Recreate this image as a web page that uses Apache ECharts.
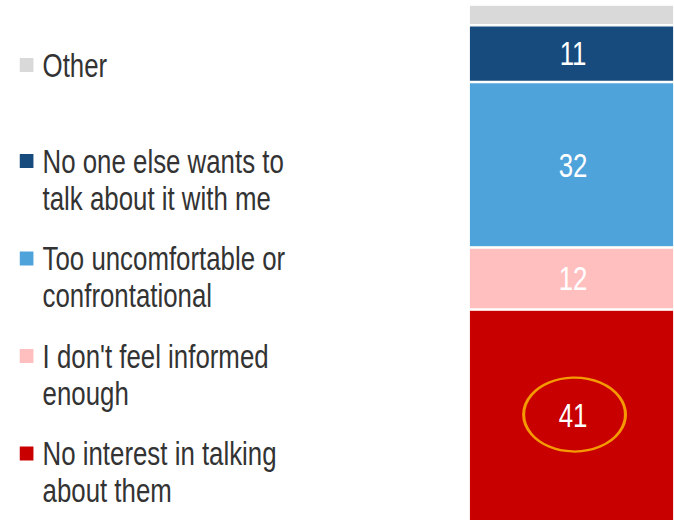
<!DOCTYPE html>
<html>
<head>
<meta charset="utf-8">
<script src="https://cdn.jsdelivr.net/npm/echarts@6/dist/echarts.min.js"></script>
<style>
  html, body { margin: 0; padding: 0; background: #fff; overflow: hidden; }
  /* the source picture is squeezed sideways, so draw wider and squeeze the same way */
  #chart { width: 887px; height: 520px; transform: scaleX(0.76); transform-origin: 0 0; }
</style>
</head>
<body>
<div id="chart"></div>
<script>
// stacked from the bottom up
const categories = ['Total']
const seriesNames = [
  'No interest in talking about them',
  "I don't feel informed enough",
  'Too uncomfortable or confrontational',
  'No one else wants to talk about it with me',
  'Other'
]
const seriesValues = [41, 12, 32, 11, 4]
const seriesColors = ['#C80000', '#FFBFBF', '#4FA3DB', '#174A7D', '#D9D9D9']
const legendLines = [
  ['No interest in talking', 'about them'],
  ["I don't feel informed", 'enough'],
  ['Too uncomfortable or', 'confrontational'],
  ['No one else wants to', 'talk about it with me'],
  ['Other']
]
const highlighted = 0 // series circled in the picture

const FONT = "'Liberation Sans', Arial, sans-serif"

const rich = {
  sp: { width: 18, height: 14 },
  t: { fontFamily: FONT, fontSize: 34, lineHeight: 37, color: '#333333', padding: [0, 0, 0, 12], verticalAlign: 'middle' }
}
seriesColors.forEach((c, i) => {
  rich['m' + i] = { width: 18, height: 14, backgroundColor: c, verticalAlign: 'middle' }
})

function legendText(name) {
  const i = seriesNames.indexOf(name)
  return legendLines[i].map((line, k) => (k === 0 ? '{m' + i + '|}' : '{sp|}') + '{t|' + line + '}').join('\n')
}

const legendBase = {
  left: 16,
  orient: 'vertical',
  icon: 'none',
  itemWidth: 0,
  itemHeight: 0,
  itemGap: 26.5,
  selectedMode: false,
  formatter: legendText,
  textStyle: { rich: rich }
}

const series = seriesNames.map((name, i) => ({
  name: name,
  type: 'bar',
  stack: 'total',
  barWidth: '100%',
  data: [seriesValues[i]],
  itemStyle: { color: seriesColors[i], borderColor: '#ffffff', borderWidth: 1.25 },
  label: {
    show: name !== 'Other',
    position: 'inside',
    offset: [2, 0],
    color: '#ffffff',
    fontFamily: FONT,
    fontSize: 34
  },
  emphasis: { disabled: true }
}))

series.push({
  name: 'highlight',
  type: 'scatter',
  data: [[0, seriesValues[highlighted] / 2]],
  symbol: 'circle',
  symbolSize: [134, 74],
  symbolOffset: [4, -1],
  itemStyle: { color: 'rgba(0,0,0,0)', borderColor: '#FFC000', borderWidth: 3 },
  z: 5,
  silent: true
})

const chart = echarts.init(document.getElementById('chart'), null, { renderer: 'svg' })
chart.setOption({
  animation: false,
  legend: [
    Object.assign({}, legendBase, { top: 43, data: ['Other'] }),
    Object.assign({}, legendBase, { top: 139, data: seriesNames.slice(0, 4).reverse() })
  ],
  grid: { left: 617, right: 0, top: 4.5, bottom: -1.5, outerBoundsMode: 'none' },
  xAxis: {
    type: 'category',
    data: categories,
    show: false
  },
  yAxis: {
    type: 'value',
    min: 0,
    max: 100,
    show: false
  },
  series: series
})
</script>
</body>
</html>
